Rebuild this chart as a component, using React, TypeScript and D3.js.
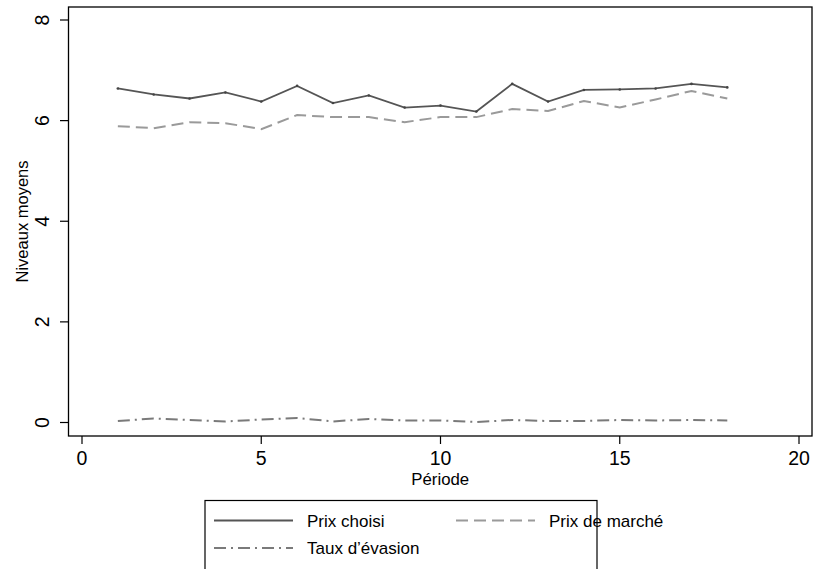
import React from "react";
import * as d3 from "d3";

const periods = [1, 2, 3, 4, 5, 6, 7, 8, 9, 10, 11, 12, 13, 14, 15, 16, 17, 18];
const prixChoisi = [6.64, 6.52, 6.44, 6.56, 6.38, 6.69, 6.35, 6.5, 6.26, 6.3, 6.18, 6.73, 6.38, 6.61, 6.62, 6.64, 6.73, 6.66];
const prixMarche = [5.89, 5.85, 5.97, 5.95, 5.83, 6.11, 6.07, 6.07, 5.97, 6.07, 6.07, 6.23, 6.19, 6.39, 6.26, 6.42, 6.59, 6.44];
const tauxEvasion = [0.03, 0.08, 0.05, 0.02, 0.06, 0.09, 0.02, 0.07, 0.04, 0.04, 0.01, 0.05, 0.03, 0.03, 0.05, 0.04, 0.05, 0.04];
const xTicks = [0, 5, 10, 15, 20];
const yTicks = [0, 2, 4, 6, 8];
const seriesNames = ["Prix choisi", "Prix de marché", "Taux d’évasion"];

export default function App() {
  const W = 813, H = 569;
  const frame = { left: 68.5, top: 7, right: 812, bottom: 436 };
  const x = d3.scaleLinear().domain([0, 20]).range([82, 799]);
  const y = d3.scaleLinear().domain([0, 8]).range([422.5, 20]);
  const font = "'Liberation Sans', Arial, sans-serif";

  const mk = (vals: number[]) =>
    d3.line<number>().x((_, i) => x(periods[i])).y((d) => y(d))(vals) || "";

  const styles = [
    { color: "#555555", dash: "none", width: 1.8 },
    { color: "#9a9a9a", dash: "12,6", width: 2 },
    { color: "#7a7a7a", dash: "12,5,2,5", width: 2 },
  ];
  const data = [prixChoisi, prixMarche, tauxEvasion];

  return (
    <svg width={W} height={H} style={{ position: "absolute", left: 0, top: 0, background: "#fff" }} fontFamily={font}>
      <rect x={0} y={0} width={W} height={H} fill="#fff" />
      <rect x={frame.left} y={frame.top} width={frame.right - frame.left} height={frame.bottom - frame.top} fill="none" stroke="#000" strokeWidth={1.3} />
      {yTicks.map((t) => (
        <g key={"y" + t}>
          <line x1={60} x2={frame.left} y1={y(t)} y2={y(t)} stroke="#000" strokeWidth={1.2} />
          <text transform={`translate(49,${y(t)}) rotate(-90)`} textAnchor="middle" fontSize={19.5} fill="#000">{t}</text>
        </g>
      ))}
      {xTicks.map((t) => (
        <g key={"x" + t}>
          <line x1={x(t)} x2={x(t)} y1={frame.bottom} y2={frame.bottom + 8} stroke="#000" strokeWidth={1.2} />
          <text x={x(t)} y={465} textAnchor="middle" fontSize={19.5} fill="#000">{t}</text>
        </g>
      ))}
      <text transform={`translate(28,${(frame.top + frame.bottom) / 2}) rotate(-90)`} textAnchor="middle" fontSize={16.5} fill="#000">Niveaux moyens</text>
      <text x={(frame.left + frame.right) / 2} y={485} textAnchor="middle" fontSize={16.8} fill="#000">Période</text>
      {data.map((vals, i) => (
        <path key={"s" + i} d={mk(vals)} fill="none" stroke={styles[i].color} strokeWidth={styles[i].width} strokeDasharray={styles[i].dash} />
      ))}
      {prixChoisi.map((v, i) => (
        <circle key={"p" + i} cx={x(periods[i])} cy={y(v)} r={1.3} fill="#444" />
      ))}
      <rect x={205} y={500.5} width={392} height={80} fill="#fff" stroke="#000" strokeWidth={1.2} />
      {[0, 1, 2].map((i) => {
        const col = i === 1 ? 1 : 0;
        const row = i === 2 ? 1 : 0;
        const lx = col === 0 ? 214 : 456;
        const ly = row === 0 ? 520.5 : 548;
        return (
          <g key={"l" + i}>
            <line x1={lx} x2={lx + 79} y1={ly} y2={ly} stroke={styles[i].color} strokeWidth={styles[i].width} strokeDasharray={styles[i].dash} />
            <text x={lx + 93} y={ly + 6} fontSize={17} fill="#000">{seriesNames[i]}</text>
          </g>
        );
      })}
    </svg>
  );
}
